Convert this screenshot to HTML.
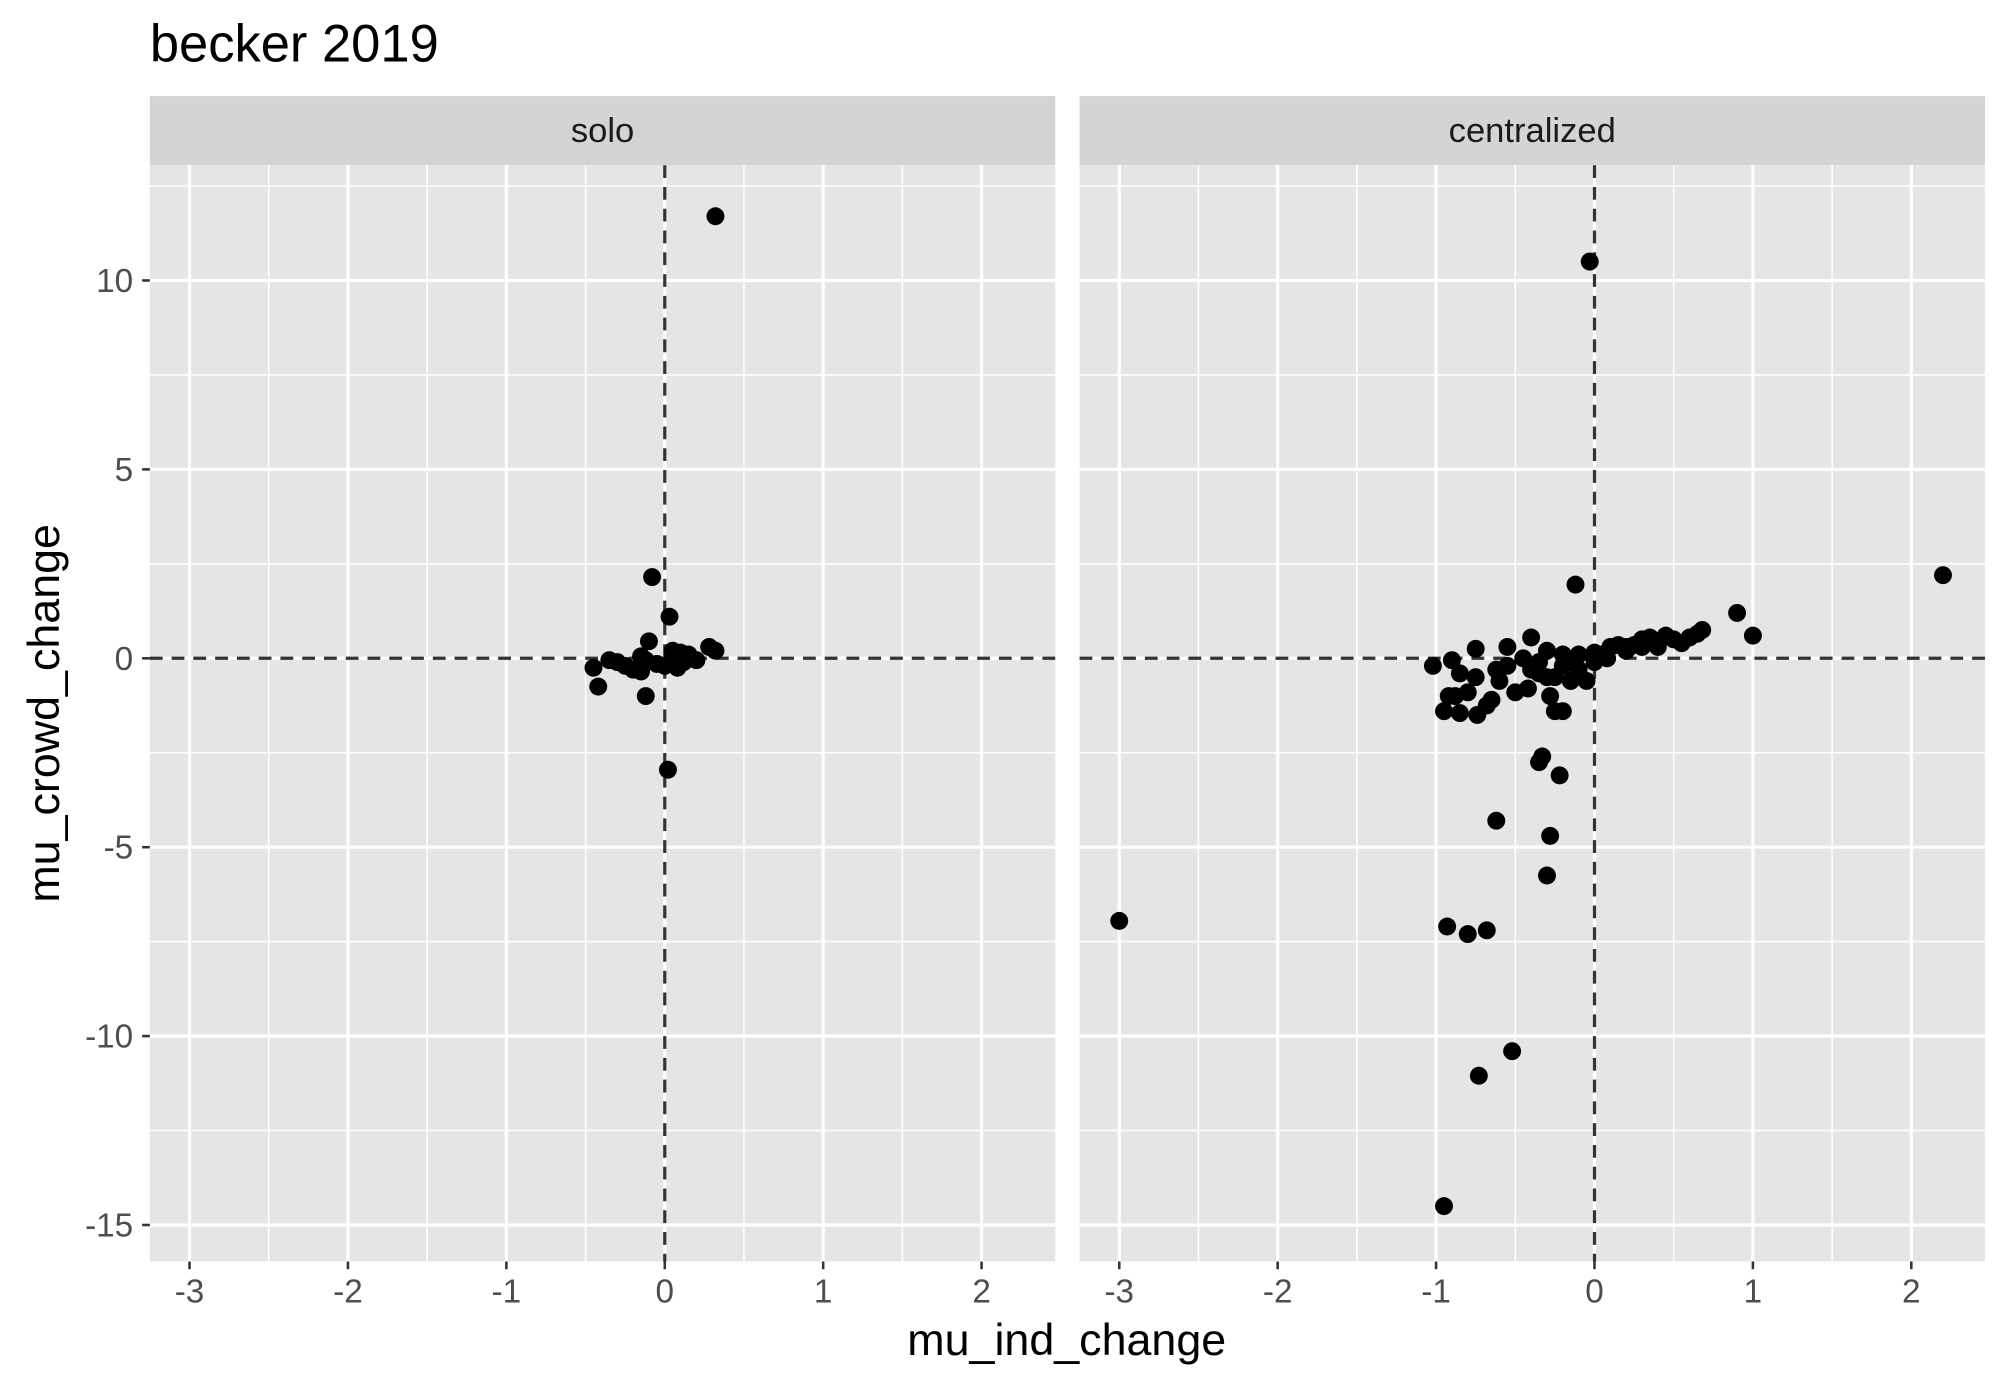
<!DOCTYPE html>
<html><head><meta charset="utf-8"><style>html,body{margin:0;padding:0;background:#fff}svg{display:block}</style></head>
<body>
<svg id="chart" width="2008" height="1387" viewBox="0 0 1568 1083" preserveAspectRatio="none" xmlns="http://www.w3.org/2000/svg" font-family="Liberation Sans, sans-serif"></svg>
<script>
const soloX=[0.32,-0.08,0.03,0.02,-0.45,-0.42,-0.12,-0.35,-0.3,-0.2,-0.15,-0.1,-0.12,-0.15,-0.05,0.0,0.05,0.08,0.1,0.15,0.2,0.28,0.32,-0.25,0.05,0.12];
const soloY=[11.7,2.15,1.1,-2.95,-0.25,-0.75,-1.0,-0.05,-0.1,-0.3,-0.35,0.45,-0.05,0.05,-0.15,-0.2,0.0,-0.25,0.15,0.1,-0.05,0.3,0.2,-0.2,0.2,-0.1];
const centX=[-0.03,2.2,-0.12,0.9,1.0,-3,-0.95,-0.73,-0.52,-0.93,-0.8,-0.68,-0.3,-0.28,-0.62,-0.22,-0.33,-0.35,-1.02,-0.9,-0.75,-0.55,-0.4,-0.85,-0.75,-0.92,-0.95,-0.85,-0.74,-0.88,-0.8,-0.65,-0.68,-0.6,-0.55,-0.62,-0.5,-0.42,-0.3,-0.25,-0.28,-0.2,-0.15,-0.1,-0.05,-0.2,-0.3,-0.2,-0.35,-0.1,0,0.05,0.1,0.15,0.2,0.25,0.3,0.35,0.4,0.45,0.5,0.55,0.6,0.65,0.68,0.3,0.4,0.2,0.08,0.0,-0.4,-0.45,-0.25,-0.15,-0.35];
const centY=[10.5,2.2,1.95,1.2,0.6,-6.95,-14.5,-11.05,-10.4,-7.1,-7.3,-7.2,-5.75,-4.7,-4.3,-3.1,-2.6,-2.75,-0.2,-0.05,0.25,0.3,0.55,-0.4,-0.5,-1.0,-1.4,-1.45,-1.5,-1.0,-0.9,-1.1,-1.25,-0.6,-0.2,-0.3,-0.9,-0.8,-0.5,-1.4,-1.0,-1.4,-0.6,-0.3,-0.6,-0.2,0.2,0.1,-0.1,0.1,0.15,0.1,0.3,0.35,0.3,0.35,0.5,0.55,0.45,0.6,0.5,0.4,0.55,0.65,0.75,0.3,0.3,0.2,0.0,-0.1,-0.3,0.0,-0.5,-0.05,-0.4];
const xTicks=[-3,-2,-1,0,1,2];
const yTicks=[-15,-10,-5,0,5,10];
const panels=[{name:'solo',x0:117,xs:soloX,ys:soloY},{name:'centralized',x0:843,xs:centX,ys:centY}];
const svg=document.getElementById('chart');const NS='http://www.w3.org/2000/svg';
function mk(t,a,p){const e=document.createElementNS(NS,t);for(const k in a)e.setAttribute(k,a[k]);(p||svg).appendChild(e);return e;}
const PW=707,TOP=129,BOT=985;
function sy(v){return 514-v*29.5;}
let t=mk('text',{x:117,y:48,'font-size':41,fill:'#000'});t.textContent='becker 2019';


panels.forEach((p,pi)=>{
 const sx=v=>p.x0+31+(v+3)*123.7;
 const g=mk('g',{});
 
 
 mk('rect',{x:p.x0,y:75,width:PW,height:54,fill:'#d4d4d4'},g);
 const st=mk('text',{x:p.x0+PW/2,y:111,'font-size':27,fill:'#1a1a1a','text-anchor':'middle'},g);st.textContent=p.name;
 
 
 mk('rect',{x:p.x0,y:TOP,width:PW,height:BOT-TOP,fill:'#e5e5e5'},g);
 for(let v=-2.5;v<=2.5;v+=1)mk('line',{x1:sx(v),x2:sx(v),y1:TOP,y2:BOT,stroke:'#fff','stroke-width':1.2},g);
 for(let v=-12.5;v<=12.5;v+=5)mk('line',{x1:p.x0,x2:p.x0+PW,y1:sy(v),y2:sy(v),stroke:'#fff','stroke-width':1.2},g);
 xTicks.forEach(v=>{mk('line',{x1:sx(v),x2:sx(v),y1:TOP,y2:BOT,stroke:'#fff','stroke-width':2.5},g);
  mk('line',{x1:sx(v),x2:sx(v),y1:BOT,y2:BOT+6,stroke:'#333','stroke-width':2},g);
  const l=mk('text',{x:sx(v),y:1017,'font-size':26,fill:'#4d4d4d','text-anchor':'middle'},g);l.textContent=v;
  
  });
 yTicks.forEach(v=>{mk('line',{x1:p.x0,x2:p.x0+PW,y1:sy(v),y2:sy(v),stroke:'#fff','stroke-width':2.5},g);
  if(pi==0){mk('line',{x1:p.x0-6,x2:p.x0,y1:sy(v),y2:sy(v),stroke:'#333','stroke-width':2},g);
  const l=mk('text',{x:104,y:sy(v)+9,'font-size':26,fill:'#4d4d4d','text-anchor':'end'},g);l.textContent=v;
  
  }});
 mk('line',{x1:p.x0,x2:p.x0+PW,y1:sy(0),y2:sy(0),stroke:'#333','stroke-width':2.5,'stroke-dasharray':'10 7'},g);
 mk('line',{x1:sx(0),x2:sx(0),y1:TOP,y2:BOT,stroke:'#333','stroke-width':2.5,'stroke-dasharray':'10 7'},g);
 p.xs.forEach((v,i)=>{const c=mk('circle',{cx:sx(v),cy:sy(p.ys[i]),r:7,fill:'#000'},g);
  
  });
});
t=mk('text',{x:833,y:1058,'font-size':35,fill:'#000','text-anchor':'middle'});t.textContent='mu_ind_change';


t=mk('text',{x:0,y:0,'font-size':35,fill:'#000','text-anchor':'middle',transform:'translate(46,557) rotate(-90)'});t.textContent='mu_crowd_change';


</script>
</body></html>
